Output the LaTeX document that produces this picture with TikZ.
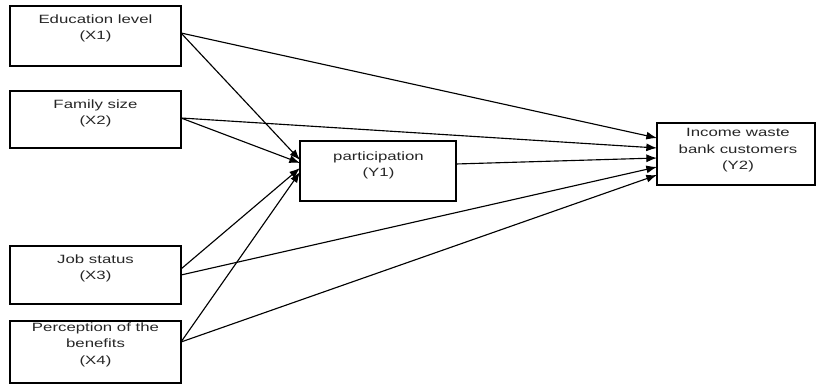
\documentclass[tikz,border=0pt]{standalone}
\usepackage{fontspec}
\newfontfamily\diagfont[FakeStretch=1.4]{Liberation Sans}
\usetikzlibrary{calc,arrows.meta}
\begin{document}
\begin{tikzpicture}[x=0.75pt,y=-0.75pt,
  box/.style={draw=black,line width=1pt,inner sep=0pt,outer sep=0pt,rectangle},
  lbl/.style={anchor=north,inner sep=0pt,align=center,text=black!85,
    font=\diagfont\fontsize{9pt}{12.4pt}\selectfont},
  conn/.style={draw=black,line width=0.85pt,-{Latex[length=8pt,width=6pt]}}]
\useasboundingbox (0,0) rectangle (817,388);
% boxes
\node[box,minimum width={171*0.75pt},minimum height={60*0.75pt}] (X1) at (95.5,36) {};
\node[box,minimum width={171*0.75pt},minimum height={57*0.75pt}] (X2) at (95.5,119.5) {};
\node[box,minimum width={171*0.75pt},minimum height={58*0.75pt}] (X3) at (95.5,275) {};
\node[box,minimum width={171*0.75pt},minimum height={62*0.75pt}] (X4) at (95.5,352) {};
\node[box,minimum width={156*0.75pt},minimum height={60*0.75pt}] (Y1) at (378,171) {};
\node[box,minimum width={158*0.75pt},minimum height={62*0.75pt}] (Y2) at (736,154) {};
% labels
\node[lbl] (tX1) at (95.5,14.2) {Education level\\(X1)};
\node[lbl] (tX2) at (95.5,99.2) {Family size\\(X2)};
\node[lbl] (tX3) at (95.5,254.2) {Job status\\(X3)};
\node[lbl] (tX4) at (95.5,322.2) {Perception of the\\benefits\\(X4)};
\node[lbl] (tY1) at (378.5,151.2) {participation\\(Y1)};
\node[lbl] (tY2) at (738,128.2) {Income waste\\bank customers\\(Y2)};
% connection points
\coordinate (s1) at ($(X1.east)+(0,-3)$);
\coordinate (s2) at ($(X2.east)+(0,-1.5)$);
\coordinate (s3a) at ($(X3.east)+(0,-6)$);
\coordinate (s3b) at ($(X3.east)+(0,0)$);
\coordinate (s4) at ($(X4.east)+(0,-10)$);
\coordinate (sy) at ($(Y1.east)+(0,-7)$);
\coordinate (e1) at ($(Y1.west)+(0,-11)$);
\coordinate (e2) at ($(Y1.west)+(0,-8)$);
\coordinate (e3) at ($(Y1.west)+(0,-3)$);
\coordinate (e4) at ($(Y1.west)+(0,1)$);
\coordinate (f1) at ($(Y2.west)+(0,-16)$);
\coordinate (f2) at ($(Y2.west)+(0,-6)$);
\coordinate (fy) at ($(Y2.west)+(0,4)$);
\coordinate (f3) at ($(Y2.west)+(0,13)$);
\coordinate (f4) at ($(Y2.west)+(0,21)$);
% connectors
\draw[conn] (s1) -- (e1);
\draw[conn] (s2) -- (e2);
\draw[conn] (s3a) -- (e3);
\draw[conn] (s4) -- (e4);
\draw[conn] (s1) -- (f1);
\draw[conn] (s2) -- (f2);
\draw[conn] (sy) -- (fy);
\draw[conn] (s3b) -- (f3);
\draw[conn] (s4) -- (f4);
\end{tikzpicture}
\end{document}
